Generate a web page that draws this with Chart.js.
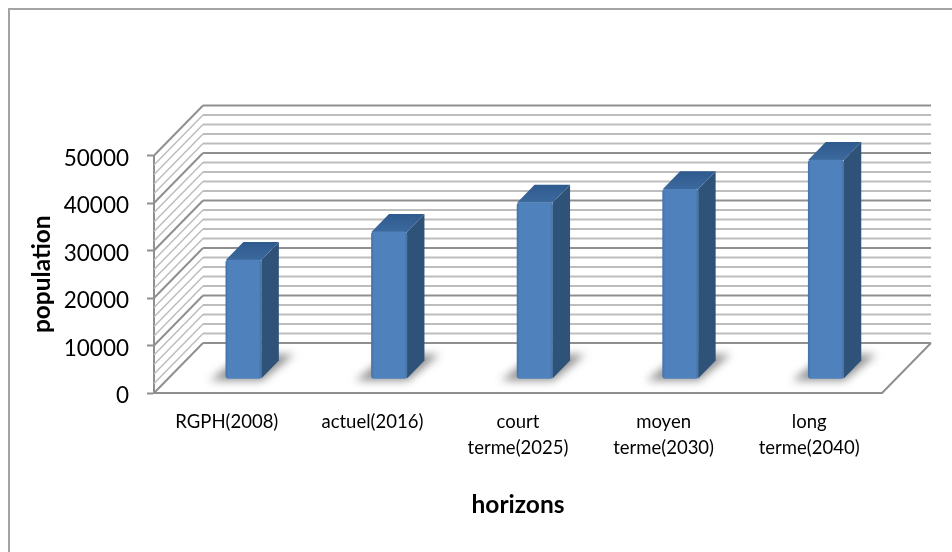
<!DOCTYPE html>
<html>
<head>
<meta charset="utf-8">
<script src="https://cdn.jsdelivr.net/npm/chart.js@4"></script>
<style>
body { margin: 0; background: #fff; }
canvas { display: block; }
</style>
</head>
<body>
<canvas id="chart" width="952" height="552"></canvas>
<script>
// Data
const categories = ['RGPH(2008)', 'actuel(2016)', ['court', 'terme(2025)'], ['moyen', 'terme(2030)'], ['long', 'terme(2040)']];
const population = [25050, 30970, 37100, 39940, 46100];
const xTitle = 'horizons';
const yTitle = 'population';

// 3D look: how far the back wall and the bars are pushed
const wallDx = 49, wallDy = -50;
const barDx = 16.8, barDy = -14;
const sideDx = 17.5, sideDy = -18;

function polygon(ctx, pts, fill) {
    ctx.beginPath();
    pts.forEach((p, i) => i ? ctx.lineTo(p[0], p[1]) : ctx.moveTo(p[0], p[1]));
    ctx.closePath();
    ctx.fillStyle = fill;
    ctx.fill();
}

function line(ctx, x1, y1, x2, y2, color, width) {
    ctx.beginPath();
    ctx.moveTo(x1, y1);
    ctx.lineTo(x2, y2);
    ctx.strokeStyle = color;
    ctx.lineWidth = width;
    ctx.stroke();
}

const scene3d = {
    id: 'scene3d',
    beforeDraw(chart) {
        const ctx = chart.ctx;
        // frame, only top and left are inside the picture
        ctx.save();
        ctx.beginPath();
        ctx.moveTo(9, 552);
        ctx.lineTo(9, 9);
        ctx.lineTo(952, 9);
        ctx.strokeStyle = '#a3a3a3';
        ctx.lineWidth = 2;
        ctx.stroke();
        ctx.restore();
    },
    beforeDatasetsDraw(chart) {
        const ctx = chart.ctx;
        const { left, right, bottom } = chart.chartArea;
        const y = chart.scales.y;
        ctx.save();
        // walls
        y.ticks.forEach(t => {
            const py = y.getPixelForValue(t.value);
            const major = t.value % 10000 === 0;
            const color = major ? '#8f8f8f' : '#bdbdbd';
            if (t.value > 0) {
                line(ctx, left + wallDx, py + wallDy, right + wallDx, py + wallDy, color, 2);
            }
            line(ctx, left, py, left + wallDx, py + wallDy, color, major ? 2 : 1.5);
        });
        // floor
        line(ctx, left + wallDx, bottom + wallDy, right + wallDx, bottom + wallDy, '#8f8f8f', 2);
        line(ctx, right, bottom, right + wallDx, bottom + wallDy, '#8f8f8f', 2);

        // bars: shadow on the floor, then side and top faces
        const bars = chart.getDatasetMeta(0).data;
        bars.forEach(b => {
            const x0 = b.x - b.width / 2 + barDx;
            const base = b.base + barDy;
            ctx.save();
            ctx.filter = 'blur(4px)';
            polygon(ctx, [[x0 - 16, base + 2], [x0 + 36, base + 2], [x0 + 68, base - 24], [x0 + 18, base - 24]], 'rgba(70,70,70,0.6)');
            ctx.restore();
        });
        bars.forEach(b => {
            const x0 = b.x - b.width / 2 + barDx;
            const x1 = x0 + b.width;
            const top = b.y + barDy;
            const base = b.base + barDy;
            polygon(ctx, [[x1, top], [x1 + sideDx, top + sideDy], [x1 + sideDx, base + sideDy], [x1, base]], '#2f5279');
            const g = ctx.createLinearGradient(0, top + sideDy, 0, top);
            g.addColorStop(0, '#2f5a8e');
            g.addColorStop(1, '#3c699e');
            polygon(ctx, [[x0, top], [x0 + sideDx, top + sideDy], [x1 + sideDx, top + sideDy], [x1, top]], g);
        });
        ctx.restore();
    },
    // native bars are the front faces, moved back onto the floor
    beforeDatasetDraw(chart) {
        chart.ctx.save();
        chart.ctx.translate(barDx, barDy);
    },
    afterDatasetDraw(chart) {
        chart.ctx.restore();
    }
};

const ctx = document.getElementById('chart').getContext('2d');
const chart = new Chart(ctx, {
    type: 'bar',
    data: {
        labels: categories,
        datasets: [{
            label: yTitle,
            data: population,
            barThickness: 35.5,
            borderRadius: 3,
            borderSkipped: false,
            backgroundColor(c) {
                const mid = c.chart.scales.x ? c.chart.scales.x.getPixelForValue(c.dataIndex) : NaN;
                if (!Number.isFinite(mid)) return '#4f81bd';
                const g = c.chart.ctx.createLinearGradient(mid - 18, 0, mid + 18, 0);
                g.addColorStop(0, '#4372a8');
                g.addColorStop(0.08, '#4f81bd');
                g.addColorStop(0.92, '#4f81bd');
                g.addColorStop(1, '#44719f');
                return g;
            }
        }]
    },
    plugins: [scene3d],
    options: {
        responsive: false,
        animation: false,
        layout: { padding: { top: 155.5, right: 70, left: 0, bottom: 0 } },
        plugins: { legend: { display: false }, tooltip: { enabled: false } },
        scales: {
            x: {
                afterFit(axis) { axis.height = 159; },
                grid: { display: false },
                border: { display: true, color: '#8f8f8f', width: 2 },
                ticks: {
                    color: '#000',
                    padding: 8,
                    maxRotation: 0,
                    autoSkip: false,
                    font: { family: 'Lato', size: 18.5, lineHeight: 1.4 }
                },
                title: {
                    display: true,
                    text: xTitle,
                    color: '#000',
                    padding: { top: 0, bottom: 32 },
                    font: { family: 'Lato', size: 24.5, weight: 'bold', lineHeight: 1.2 }
                }
            },
            y: {
                min: 0,
                max: 50000,
                afterFit(axis) { axis.width = 154; },
                grid: {
                    drawOnChartArea: false,
                    tickLength: 7,
                    tickWidth: 2,
                    tickColor: c => (c.tick && c.tick.value % 10000 === 0 ? '#8f8f8f' : 'rgba(0,0,0,0)')
                },
                border: { display: true, color: '#8f8f8f', width: 2 },
                ticks: {
                    stepSize: 2000,
                    autoSkip: false,
                    color: '#000',
                    padding: 18,
                    labelOffset: 3,
                    font: { family: 'Lato', size: 22.5 },
                    callback: v => (v % 10000 === 0 ? String(v) : '')
                },
                title: {
                    display: true,
                    text: yTitle,
                    color: '#000',
                    padding: { top: 27, bottom: 0 },
                    font: { family: 'Lato', size: 24.5, weight: 'bold', lineHeight: 1.2 }
                }
            }
        }
    }
});
</script>
</body>
</html>
